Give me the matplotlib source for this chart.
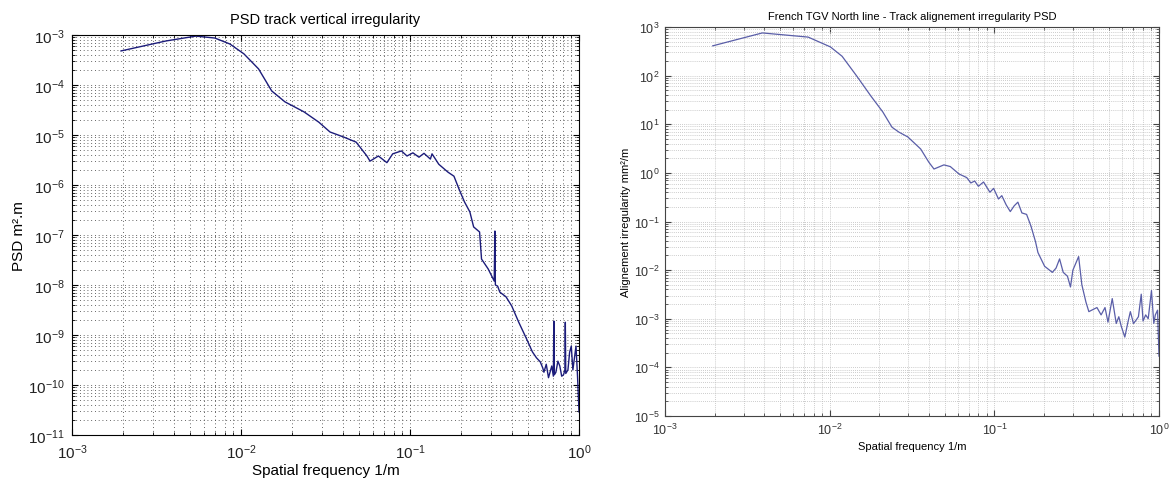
import matplotlib
matplotlib.use("Agg")
import matplotlib.pyplot as plt
from matplotlib.ticker import LogLocator, NullFormatter

plt.rcParams['font.family'] = ['Liberation Sans', 'DejaVu Sans']
plt.rcParams['mathtext.fontset'] = 'custom'
plt.rcParams['mathtext.rm'] = 'Liberation Sans'
plt.rcParams['mathtext.default'] = 'regular'

# vertical irregularity PSD (m^2.m) vs spatial frequency (1/m)
f_vert = [0.00195, 0.0036, 0.0054, 0.0070, 0.0086, 0.0104, 0.0127, 0.0152, 0.0182,
          0.0236, 0.0289, 0.0336, 0.0405, 0.048, 0.0556, 0.058, 0.065, 0.073, 0.079,
          0.089, 0.096, 0.104, 0.113, 0.121, 0.132, 0.135, 0.148, 0.168, 0.182, 0.195,
          0.21, 0.226, 0.238, 0.258, 0.265, 0.29, 0.315, 0.318, 0.32, 0.33, 0.34, 0.37,
          0.40, 0.44, 0.49, 0.53, 0.56, 0.59, 0.61, 0.62, 0.64, 0.66, 0.69, 0.705, 0.71,
          0.715, 0.73, 0.75, 0.77, 0.79, 0.81, 0.825, 0.83, 0.835, 0.86, 0.88, 0.90, 0.92,
          0.94, 0.96, 0.98, 1.0]
psd_vert = [4.8e-4, 7.6e-4, 9.5e-4, 8.7e-4, 6.6e-4, 4.2e-4, 2.1e-4, 7.6e-5, 4.6e-5,
            2.9e-5, 1.8e-5, 1.15e-5, 9.1e-6, 7.2e-6, 3.8e-6, 3.0e-6, 3.8e-6, 2.8e-6, 4.2e-6,
            4.8e-6, 3.8e-6, 4.4e-6, 3.6e-6, 4.3e-6, 3.3e-6, 4.2e-6, 2.6e-6, 1.8e-6, 1.5e-6, 8.3e-7,
            4.6e-7, 2.9e-7, 1.45e-7, 1.15e-7, 3.3e-8, 2.1e-8, 1.2e-8, 1.2e-7, 1.0e-8, 9.5e-9, 7.2e-9, 5.8e-9,
            3.8e-9, 1.8e-9, 8.3e-10, 4.6e-10, 3.5e-10, 2.9e-10, 2.2e-10, 1.8e-10, 2.6e-10, 1.4e-10, 2.4e-10, 1.5e-10, 1.9e-9,
            1.6e-10, 1.8e-10, 3.0e-10, 2.4e-10, 1.5e-10, 1.6e-10, 2.0e-10, 1.8e-9, 1.7e-10, 2.0e-10, 4.5e-10, 6.0e-10, 2.0e-10,
            3.5e-10, 6.0e-10, 1.5e-10, 2.9e-11]

# TGV North line alignment PSD (mm^2/m)
f_align = [0.00195, 0.0039, 0.0074, 0.0101, 0.0119, 0.0146, 0.0178, 0.0210, 0.0239,
           0.0263, 0.0298, 0.0357, 0.040, 0.043, 0.0494, 0.054, 0.061, 0.068, 0.072, 0.076, 0.080,
           0.086, 0.094, 0.099, 0.106, 0.111, 0.118, 0.125, 0.132, 0.139, 0.147, 0.157, 0.167, 0.178,
           0.184, 0.202, 0.225, 0.237, 0.249, 0.262, 0.278, 0.29, 0.30, 0.325, 0.34, 0.36, 0.375, 0.39,
           0.42, 0.445, 0.47, 0.49, 0.52, 0.55, 0.57, 0.59, 0.62, 0.65, 0.67, 0.70, 0.72, 0.75,
           0.78, 0.80, 0.83, 0.86, 0.90, 0.93, 0.95, 0.98, 1.0]
psd_align = [410, 755, 620, 390, 250, 98, 38, 18, 8.7,
             6.9, 5.5, 3.1, 1.66, 1.2, 1.46, 1.35, 0.95, 0.80, 0.62, 0.68, 0.53,
             0.65, 0.40, 0.48, 0.29, 0.34, 0.22, 0.16, 0.21, 0.25, 0.15, 0.14, 0.08, 0.038,
             0.023, 0.012, 0.009, 0.011, 0.017, 0.009, 0.0075, 0.0045, 0.010, 0.019, 0.005, 0.0022, 0.0014, 0.0015,
             0.0017, 0.0012, 0.0017, 8.5e-4, 0.0026, 8e-4, 0.0011, 7e-4, 4.2e-4, 9e-4, 0.0014, 8e-4, 9e-4, 0.0011,
             0.0032, 9e-4, 0.0012, 0.001, 0.0038, 8e-4, 0.0012, 0.0015, 1.7e-4]

fig = plt.figure(figsize=(11.7, 4.85), dpi=100)

def style_axes(ax, grid_color, grid_ls, spine_color):
    ax.set_xscale('log')
    ax.set_yscale('log')
    ax.xaxis.set_major_locator(LogLocator(base=10, numticks=20))
    ax.yaxis.set_major_locator(LogLocator(base=10, numticks=20))
    ax.xaxis.set_minor_locator(LogLocator(base=10, subs=range(2, 10), numticks=20))
    ax.yaxis.set_minor_locator(LogLocator(base=10, subs=range(2, 10), numticks=20))
    ax.xaxis.set_minor_formatter(NullFormatter())
    ax.yaxis.set_minor_formatter(NullFormatter())
    ax.tick_params(which='both', direction='in', top=True, right=True, colors=spine_color)
    ax.tick_params(which='major', length=4)
    ax.tick_params(which='minor', length=2.5)
    ax.grid(True, which='both', color=grid_color, linestyle=grid_ls, linewidth=0.6)
    for s in ax.spines.values():
        s.set_color(spine_color)

ax1 = fig.add_axes([72/1170, 1-436/485, 507/1170, 400/485])
ax1.plot(f_vert, psd_vert, color='#1c1c7a', linewidth=1.0)
style_axes(ax1, '#333333', (0, (1, 3.5)), 'black')
ax1.set_xlim(1e-3, 1)
ax1.set_ylim(1e-11, 1e-3)
ax1.tick_params(which='major', labelsize=11, labelcolor='#222222', pad=5)
ax1.set_title('PSD track vertical irregularity', fontsize=10.5, pad=9)
ax1.set_xlabel('Spatial frequency 1/m', fontsize=11, labelpad=2)
ax1.set_ylabel('PSD m².m', fontsize=11, labelpad=2)

ax2 = fig.add_axes([665/1170, 1-417/485, 494/1170, 389/485])
ax2.plot(f_align, psd_align, color='#5a5ea8', linewidth=0.9)
style_axes(ax2, '#bbbbbb', (0, (1, 1.5)), '#444444')
ax2.set_xlim(1e-3, 1)
ax2.set_ylim(1e-5, 1e3)
ax2.tick_params(which='major', labelsize=9, labelcolor='#333333', pad=4)
ax2.set_title('French TGV North line - Track alignement irregularity PSD', fontsize=8, pad=6)
ax2.set_xlabel('Spatial frequency 1/m', fontsize=8, labelpad=3)
ax2.set_ylabel('Alignement irregularity mm²/m', fontsize=8, labelpad=2)

fig.savefig('out.png', dpi=100)
